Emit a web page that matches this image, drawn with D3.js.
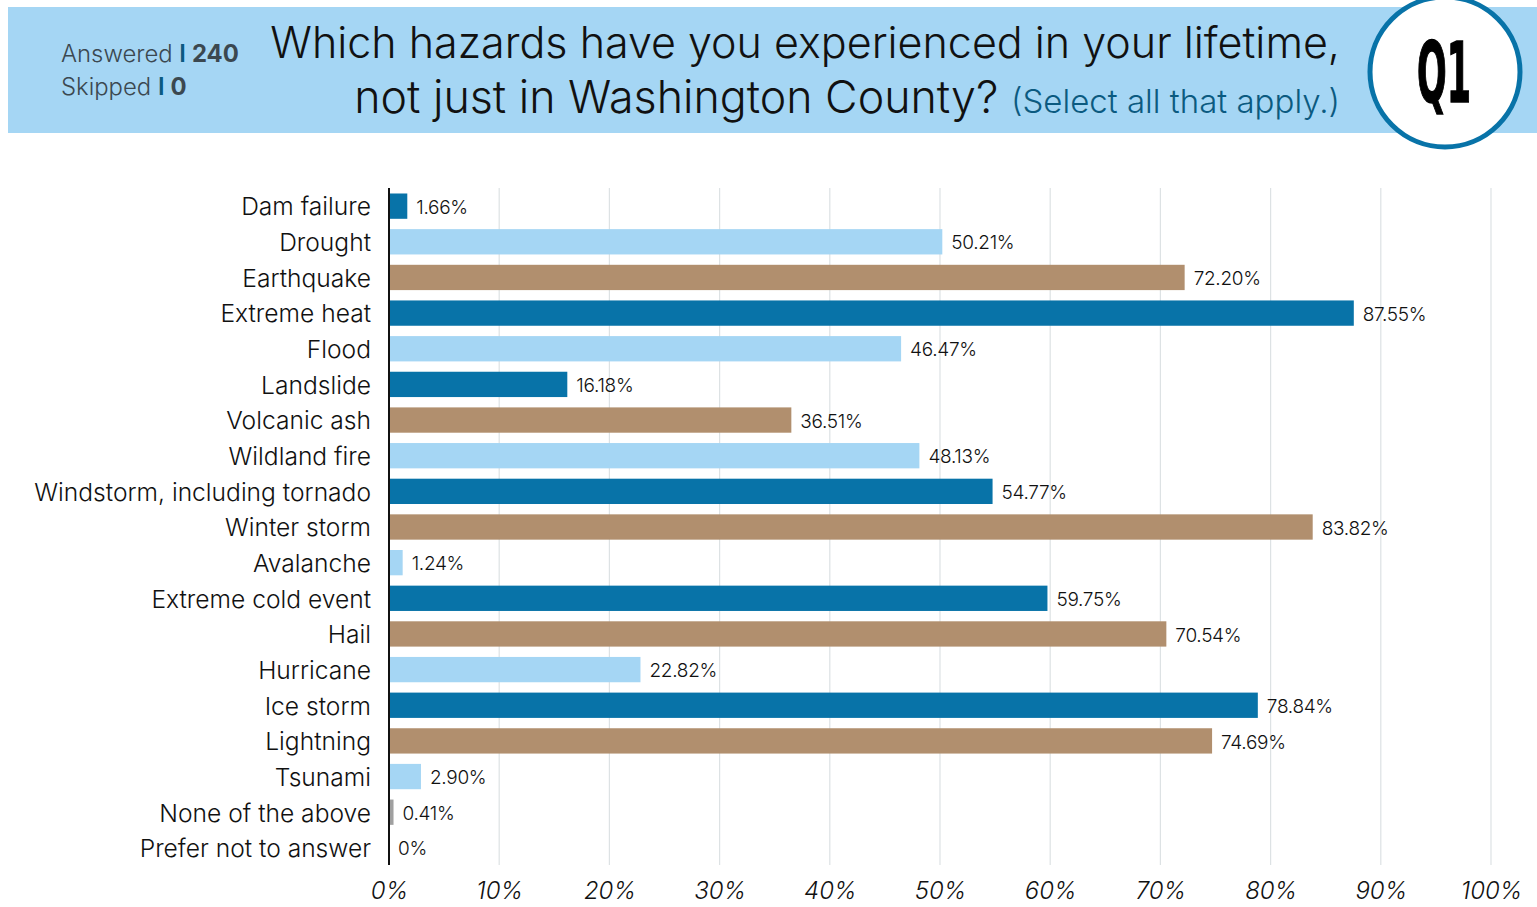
<!DOCTYPE html>
<html><head><meta charset="utf-8">
<script src="https://cdn.jsdelivr.net/npm/d3@7"></script>
<style>
html,body{margin:0;padding:0;background:#fff;}
svg{display:block;}
text{font-family:Inter,"Open Sans",sans-serif;}
</style></head>
<body>
<svg id="c" width="1537" height="907"></svg>
<script>
const categories = ["Dam failure","Drought","Earthquake","Extreme heat","Flood","Landslide","Volcanic ash","Wildland fire","Windstorm, including tornado","Winter storm","Avalanche","Extreme cold event","Hail","Hurricane","Ice storm","Lightning","Tsunami","None of the above","Prefer not to answer"];
const values = [1.66,50.21,72.20,87.55,46.47,16.18,36.51,48.13,54.77,83.82,1.24,59.75,70.54,22.82,78.84,74.69,2.90,0.41,0];
const colorKeys = ["dark","light","tan","dark","light","dark","tan","light","dark","tan","light","dark","tan","light","dark","tan","light","gray","gray"];
const tickValues = [0,10,20,30,40,50,60,70,80,90,100];
const palette = {dark:"#0873a8", light:"#a5d6f4", tan:"#b18f6e", gray:"#a0a0a0"};

const svg = d3.select("#c");

function fitWidth(sel, target){
  const w = sel.node().getComputedTextLength();
  const fs = parseFloat(sel.style("font-size"));
  sel.style("font-size", (fs*target/w)+"px");
}

// header band
svg.append("rect").attr("x",8).attr("y",7).attr("width",1529).attr("height",126).attr("fill","#a5d6f4");

const info = svg.append("g").attr("fill","#3b4850").style("font-size","23px").style("font-weight","300");
const t1 = info.append("text").attr("x",61).attr("y",62);
t1.append("tspan").text("Answered ");
t1.append("tspan").attr("fill","#0b5a80").attr("font-weight","600").text("I ");
t1.append("tspan").attr("font-weight","bold").text("240");
fitWidth(t1, 178);
const t2 = info.append("text").attr("x",61).attr("y",95);
t2.append("tspan").text("Skipped ");
t2.append("tspan").attr("fill","#0b5a80").attr("font-weight","600").text("I ");
t2.append("tspan").attr("font-weight","bold").text("0");
t2.style("font-size", t1.style("font-size"));

const title1 = svg.append("text").attr("x",1340).attr("y",58).attr("text-anchor","end")
  .style("font-size","46px").style("font-weight","300").attr("fill","#111")
  .text("Which hazards have you experienced in your lifetime,");
fitWidth(title1, 1070);
const tl2 = svg.append("text").attr("x",1340).attr("y",113).attr("text-anchor","end").attr("fill","#111").style("font-weight","300");
const tA = tl2.append("tspan").style("font-size","46px").text("not just in Washington County? ");
const tB = tl2.append("tspan").style("font-size","34px").attr("fill","#0b5a80").text("(Select all that apply.)");
{
  const w = tl2.node().getComputedTextLength();
  const k = 986 / w;
  tA.style("font-size", (46*k)+"px");
  tB.style("font-size", (34*k)+"px");
}

// Q1 circle
svg.append("circle").attr("cx",1445).attr("cy",72).attr("r",75)
  .attr("fill","#fff").attr("stroke","#0873a8").attr("stroke-width",5);
const q = svg.append("text").attr("text-anchor","middle")
  .style("font-family","'Liberation Sans Narrow','DejaVu Sans Condensed',sans-serif")
  .style("font-weight","bold").style("font-size","84px").attr("fill","#000")
  .attr("stroke","#000").attr("stroke-width",1.5).text("Q1");
const qw = q.node().getComputedTextLength();
q.attr("transform",`translate(1444,102) scale(${54/qw},1)`);

// chart
const x = d3.scaleLinear().domain([0,100]).range([389,1491]);
const y = d3.scaleBand().domain(categories).range([188.5,865.5]).paddingInner(0.29).paddingOuter(0.14);

const grid = svg.append("g");
grid.selectAll("line").data(tickValues.slice(1)).join("line")
  .attr("x1",d=>x(d)).attr("x2",d=>x(d)).attr("y1",188).attr("y2",865)
  .attr("stroke","#dde2e4").attr("stroke-width",1.2);

svg.append("g").selectAll("rect").data(categories).join("rect")
  .attr("x",x(0)).attr("y",d=>y(d)).attr("height",y.bandwidth())
  .attr("width",(d,i)=>x(values[i])-x(0))
  .attr("fill",(d,i)=>palette[colorKeys[i]]);

svg.append("g").selectAll("text").data(categories).join("text")
  .attr("x",(d,i)=>x(values[i])+9).attr("y",d=>y(d)+y.bandwidth()/2)
  .attr("dy","0.4em").style("font-size","19px").style("font-weight","300").attr("fill","#111")
  .style("letter-spacing","-0.3px")
  .text((d,i)=> (values[i]===0? "0" : values[i].toFixed(2))+"%");

svg.append("g").selectAll("text").data(categories).join("text")
  .attr("x",371).attr("y",d=>y(d)+y.bandwidth()/2).attr("dy","0.38em")
  .attr("text-anchor","end").style("font-size","24.6px").style("font-weight","300").attr("fill","#111").text(d=>d);

svg.append("line").attr("x1",x(0)).attr("x2",x(0)).attr("y1",188).attr("y2",865)
  .attr("stroke","#111").attr("stroke-width",2);

const axis = d3.axisBottom(x).tickValues(tickValues).tickFormat(d=>d+"%").tickSize(0).tickPadding(0);
const ax = svg.append("g").attr("transform","translate(0,899)").call(axis);
ax.select(".domain").remove();
ax.selectAll("text").style("font-size","24px").style("font-style","italic").style("font-weight","300")
  .style("font-family","Inter,'Open Sans',sans-serif").attr("fill","#111").attr("dy","0");
</script>
</body></html>
